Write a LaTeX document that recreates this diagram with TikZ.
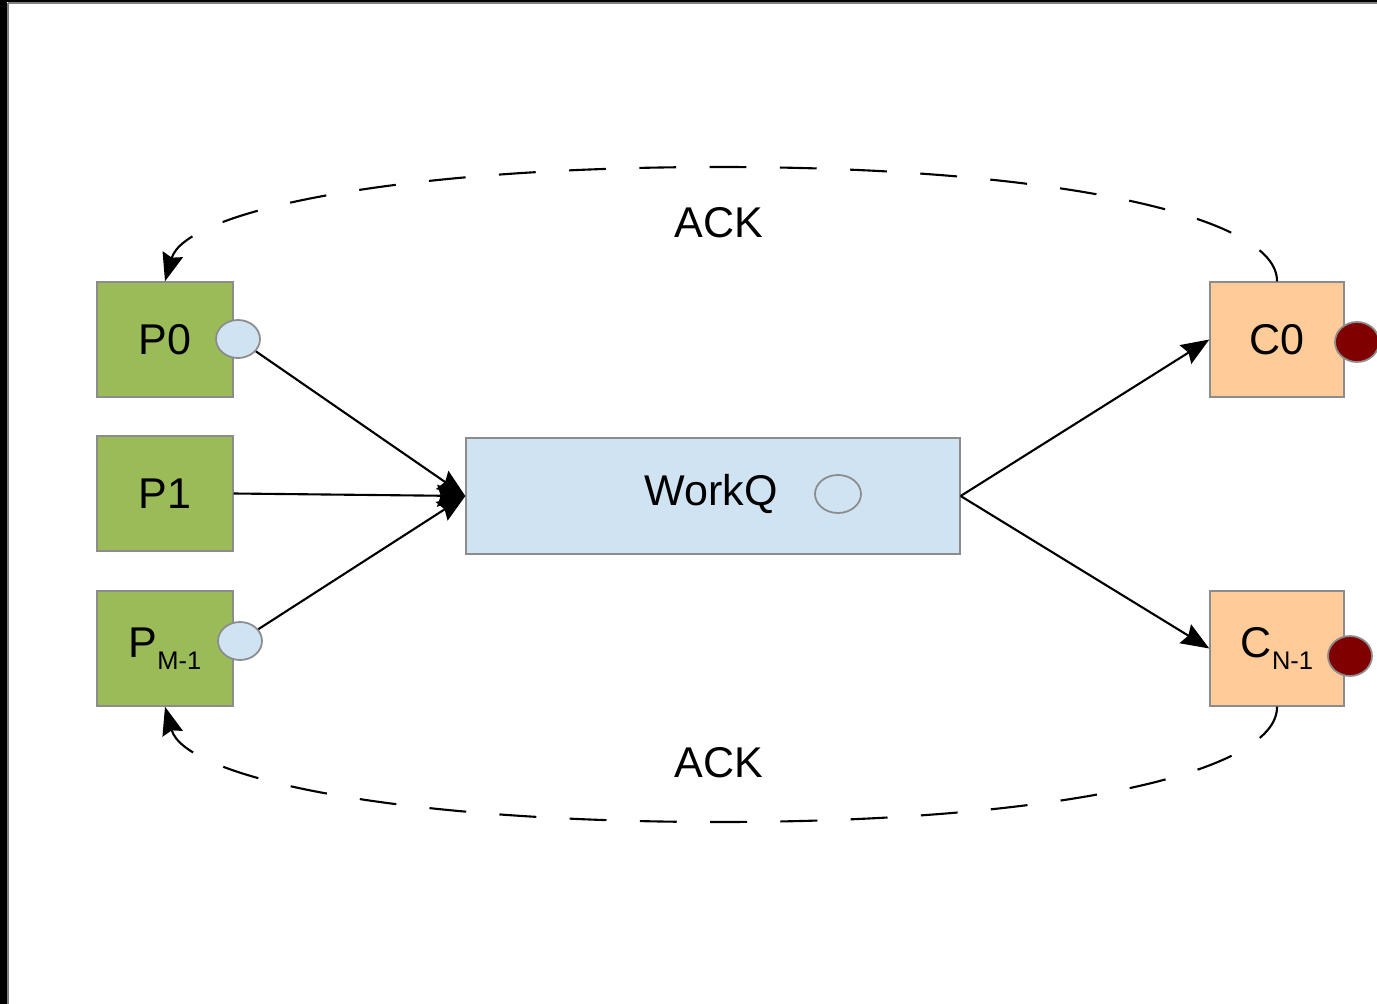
\documentclass[tikz,border=0pt]{standalone}
\usepackage{fontspec}
\setmainfont{Liberation Sans}
\usetikzlibrary{shapes.geometric,arrows.meta}
\definecolor{pgreen}{HTML}{9BBB59}
\definecolor{qblue}{HTML}{CFE3F2}
\definecolor{cpeach}{HTML}{FFCC99}
\definecolor{dred}{HTML}{800000}
\definecolor{bgray}{HTML}{8C8C8C}
\tikzset{
  pbox/.style={draw=bgray, line width=0.8pt, fill=pgreen, minimum width=2.72cm, minimum height=2.3cm, inner sep=0pt, font=\fontsize{24.5pt}{27pt}\selectfont},
  cbox/.style={draw=bgray, line width=0.8pt, fill=cpeach, minimum width=2.68cm, minimum height=2.3cm, inner sep=0pt, font=\fontsize{24.5pt}{27pt}\selectfont},
  qbox/.style={draw=bgray, line width=0.8pt, fill=qblue, minimum width=9.88cm, minimum height=2.32cm, inner sep=0pt},
  bluedot/.style={ellipse, draw=bgray, line width=1pt, fill=qblue, minimum width=0.88cm, minimum height=0.76cm, inner sep=0pt},
  reddot/.style={ellipse, draw=bgray, line width=1pt, fill=dred, minimum width=0.88cm, minimum height=0.8cm, inner sep=0pt},
  lbl/.style={font=\fontsize{24.5pt}{27pt}\selectfont, inner sep=0pt},
  flow/.style={line width=1.2pt, -{Stealth[length=16pt,width=12.5pt,inset=2pt]}},
  ack/.style={line width=1.2pt, dash pattern=on 21pt off 19pt, -{Stealth[length=16pt,width=12pt,inset=2pt]}},
}
\newcommand{\subtxt}[1]{\raisebox{-0.55ex}{\fontsize{14.5pt}{14.5pt}\selectfont #1}}
\begin{document}
\begin{tikzpicture}[x=0.02cm,y=-0.02cm]
\useasboundingbox (0,0) rectangle (1377,1004);
\fill[white] (0,0) rectangle (1377,1004);
\fill[black] (0,0) rectangle (7,1004);
\fill[black] (0,0) rectangle (1377,2);
\draw[gray, line width=1pt] (8,3) -- (1377,3);
\draw[gray, line width=1pt] (8,3) -- (8,1004);

\node[pbox] (p0) at (165,339.5) {P0};
\node[pbox] (p1) at (165,493.5) {P1};
\node[pbox] (pm) at (165,648.5) {P\subtxt{M-1}};
\node[bluedot] (d0) at (238,339) {};
\node[bluedot] (dm) at (240,641) {};

\node[qbox] (wq) at (713,496) {};
\node[lbl] (wqt) at (711,494) {WorkQ};
\node[ellipse, draw=bgray, line width=1pt, minimum width=0.92cm, minimum height=0.76cm, inner sep=0pt] (wqd) at (838,494) {};

\node[cbox] (c0) at (1277,339.5) {C0};
\node[cbox] (cn) at (1277,648.5) {C\subtxt{N-1}};
\node[reddot] (r0) at (1357,342) {};
\node[reddot] (rn) at (1350,656) {};

\draw[flow] (d0) -- (wq.west);
\draw[flow] (p1.east) -- (wq.west);
\draw[flow] (dm) -- (wq.west);
\draw[flow] (wq.east) -- (c0.west);
\draw[flow] (wq.east) -- (cn.west);

\coordinate (topmid) at (720,167);
\coordinate (botmid) at (720,822);
\draw[ack] (c0.north) .. controls (1278,215) and (1050,167) .. (topmid)
  .. controls (390,167) and (185,212) .. (p0.north);
\draw[ack] (cn.south) .. controls (1278,774) and (1050,822) .. (botmid)
  .. controls (390,822) and (185,777) .. (pm.south);

\node[lbl] (ack1) at (719,223) {ACK};
\node[lbl] (ack2) at (719,763) {ACK};
\end{tikzpicture}
\end{document}
